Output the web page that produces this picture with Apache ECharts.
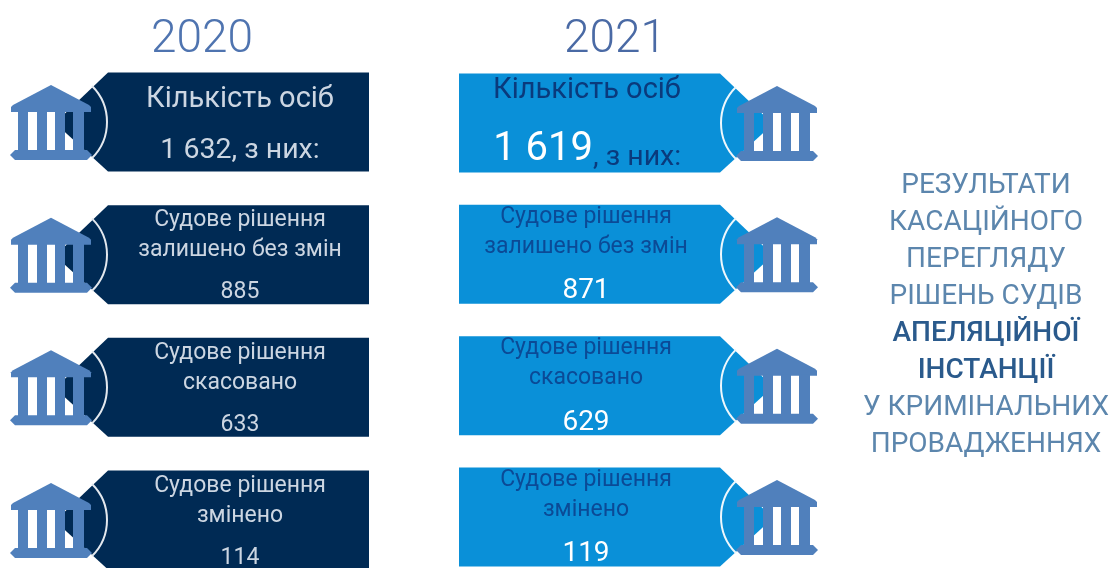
<!DOCTYPE html>
<html>
<head>
<meta charset="utf-8">
<title>Результати касаційного перегляду</title>
<script src="https://cdn.jsdelivr.net/npm/echarts@6/dist/echarts.min.js"></script>
<style>
  html, body { margin: 0; padding: 0; background: #fff; }
  #chart { width: 1111px; height: 568px; }
</style>
</head>
<body>
<div id="chart"></div>
<script>
const years = ['2020', '2021'];
const rows = ['Кількість осіб', 'Судове рішення\nзалишено без змін', 'Судове рішення\nскасовано', 'Судове рішення\nзмінено'];
const values2020 = [1632, 885, 633, 114];
const values2021 = [1619, 871, 629, 119];
const sideTitle = ['РЕЗУЛЬТАТИ', 'КАСАЦІЙНОГО', 'ПЕРЕГЛЯДУ', 'РІШЕНЬ СУДІВ', 'АПЕЛЯЦІЙНОЇ', 'ІНСТАНЦІЇ', 'У КРИМІНАЛЬНИХ', 'ПРОВАДЖЕННЯХ'];
const sideBold = ['АПЕЛЯЦІЙНОЇ', 'ІНСТАНЦІЇ'];

const FONT = 'Roboto, sans-serif';
const ICON = '#5080bc';

function thousands(v) {
    return String(v).replace(/\B(?=(\d{3})+$)/g, ' ');
}

function label(x, y, text, size, fill, align) {
    return {
        type: 'text',
        style: { x, y, text, fill, font: `400 ${size}px ${FONT}`, textAlign: align || 'center', textVerticalAlign: 'middle' }
    };
}

// будівля: значок лежить поверх картки
function iconParts(cx, cy) {
    const poly = pts => ({
        type: 'polygon',
        shape: { points: pts.map(p => [cx + p[0], cy + p[1]]) },
        style: { fill: ICON }
    });
    const column = (a, b) => poly([[a, -11], [b, -11], [b, 29], [a, 29]]);
    return [
        poly([[0, -37], [38, -17], [40, -15], [40, -10], [-40, -10], [-40, -15], [-38, -17]]),
        column(-33, -23), column(-14, -4), column(4, 14), column(22, 33),
        poly([[-36, 28], [36, 28], [41, 33], [36, 38], [-36, 38], [-41, 33]])
    ];
}

function rowTexts(yearIdx, row, value, cx, cy) {
    const dark = yearIdx === 0;
    const nameColor = dark ? '#ccd6e2' : '#0b4a96';
    const valueColor = dark ? '#ccd6e2' : '#ffffff';
    const textX = dark ? cx + 50 : cx - 52;
    if (row === 0) {
        if (dark) {
            return [
                label(textX, cy - 22, rows[0], 29, nameColor),
                label(textX, cy + 29, thousands(value) + ', з них:', 28.5, nameColor)
            ];
        }
        return [
            label(textX + 1, cy - 32, rows[0], 29, '#0a3a7c'),
            label(cx - 45, cy + 27, thousands(value), 40, valueColor, 'right'),
            label(cx - 45, cy + 35, ', з них:', 28.5, '#0a3a7c', 'left')
        ];
    }
    const lines = rows[row].split('\n');
    const lineY = dark ? [-34, -4] : [-37, -7];
    const out = lines.map((t, i) => label(textX, cy + lineY[i], t, 23, nameColor));
    out.push(label(textX, cy + (dark ? 38 : 37), String(value), dark ? 23 : 28, valueColor));
    return out;
}

function renderCard(params, api) {
    const yearIdx = params.seriesIndex;
    const row = api.value(1);
    const [cx, cy] = api.coord([api.value(0), row]);
    const dir = yearIdx === 0 ? 1 : -1;
    const fill = yearIdx === 0 ? '#002a54' : '#0a90d8';
    const h = 49.5;
    const shape = [[179, -h], [179, h], [-82, h], [-135, 1], [-82, -h]];
    const a = Math.PI / 4;
    return {
        type: 'group',
        children: [
            {
                type: 'polygon',
                shape: { points: shape.map(p => [cx + dir * p[0], cy + p[1]]) },
                style: { fill }
            },
            {
                type: 'arc',
                shape: {
                    cx: cx - dir * 134, cy, r: 51,
                    startAngle: dir === 1 ? -a : Math.PI - a,
                    endAngle: dir === 1 ? a : Math.PI + a
                },
                style: { fill: 'none', stroke: yearIdx === 0 ? '#e3e8ee' : '#eef7fc', lineWidth: 2 }
            },
            ...iconParts(cx - dir * 139, cy),
            ...rowTexts(yearIdx, row, api.value(2), cx, cy)
        ]
    };
}

const chart = echarts.init(document.getElementById('chart'));

const richSide = sideTitle.map(t => (sideBold.includes(t) ? `{b|${t}}` : `{a|${t}}`)).join('\n');

chart.setOption({
    animation: false,
    backgroundColor: '#ffffff',
    title: [
        { text: years[0], left: 197, top: 12, textAlign: 'center', textStyle: { color: '#4f74b0', fontFamily: FONT, fontWeight: 300, fontSize: 46 } },
        { text: years[1], left: 610, top: 12, textAlign: 'center', textStyle: { color: '#4a6aa5', fontFamily: FONT, fontWeight: 300, fontSize: 46 } },
        {
            text: richSide,
            left: 981,
            top: 162,
            textAlign: 'center',
            textStyle: {
                rich: {
                    a: { color: '#5c86ad', fontFamily: FONT, fontWeight: 400, fontSize: 28, lineHeight: 37, align: 'center' },
                    b: { color: '#2a5a8c', fontFamily: FONT, fontWeight: 500, fontSize: 28, lineHeight: 37, align: 'center' }
                }
            }
        }
    ],
    grid: [
        { left: 11, width: 358, top: 122, height: 398 },
        { left: 459, width: 358, top: 123, height: 394 }
    ],
    xAxis: [
        { gridIndex: 0, type: 'category', data: [years[0]], show: false },
        { gridIndex: 1, type: 'category', data: [years[1]], show: false }
    ],
    yAxis: [
        { gridIndex: 0, type: 'category', data: rows, inverse: true, boundaryGap: false, show: false },
        { gridIndex: 1, type: 'category', data: rows, inverse: true, boundaryGap: false, show: false }
    ],
    series: [
        {
            name: years[0], type: 'custom', xAxisIndex: 0, yAxisIndex: 0, clip: false,
            renderItem: renderCard,
            encode: { x: 0, y: 1 },
            data: values2020.map((v, i) => [0, i, v])
        },
        {
            name: years[1], type: 'custom', xAxisIndex: 1, yAxisIndex: 1, clip: false,
            renderItem: renderCard,
            encode: { x: 0, y: 1 },
            data: values2021.map((v, i) => [0, i, v])
        }
    ]
});

window.addEventListener('resize', () => chart.resize());
</script>
</body>
</html>
